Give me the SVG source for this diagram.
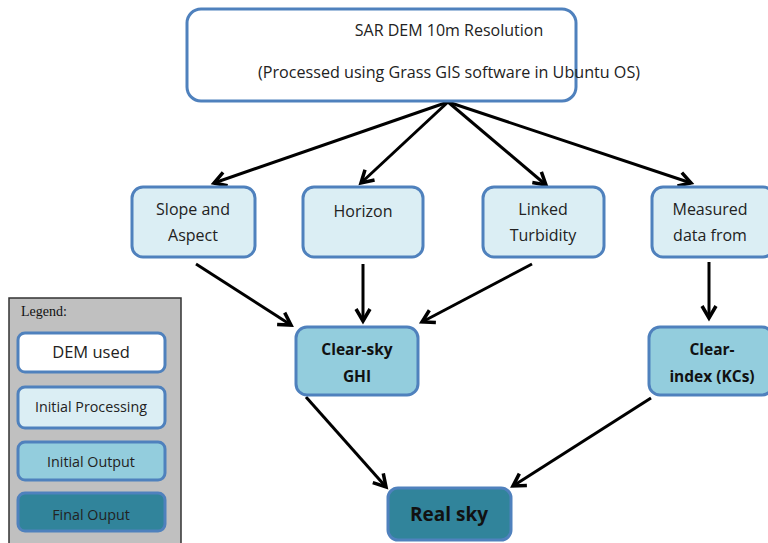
<svg xmlns="http://www.w3.org/2000/svg" width="768" height="543" viewBox="0 0 768 543">
<style>
.box{stroke:#4f81bd;stroke-width:3}
.w{fill:#ffffff}
.p{fill:#dbeef4}
.o{fill:#93cddd}
.f{fill:#31849b}
.t{font-family:"Open Sans","Liberation Sans",sans-serif;font-size:16px;fill:#222;text-anchor:middle}
.b{font-family:"Open Sans","Liberation Sans",sans-serif;font-size:15.5px;font-weight:bold;fill:#111;text-anchor:middle}
.c{stroke:#000;stroke-width:3;fill:none;marker-end:url(#ah)}
</style>
<defs>
<marker id="ah" markerUnits="userSpaceOnUse" markerWidth="20" markerHeight="20" viewBox="0 0 20 20" refX="16" refY="10" orient="auto">
<path d="M4,3 L16,10 L4,17" fill="none" stroke="#000" stroke-width="3.5" stroke-linejoin="miter"/>
</marker>
</defs>
<rect width="768" height="543" fill="#ffffff"/>
<g id="legend">
<rect x="9" y="298" width="172" height="250" fill="#c0c0c0" stroke="#333" stroke-width="1.5"/>
<text x="21" y="316" font-family="Liberation Serif,serif" font-size="14" fill="#111">Legend:</text>
<rect class="box w" x="18" y="333" width="147" height="39" rx="7"/>
<text class="t" x="91" y="358" style="font-size:16.5px">DEM used</text>
<rect class="box p" x="18" y="387" width="147" height="41" rx="7"/>
<text class="t" x="91" y="412" style="font-size:14.3px">Initial Processing</text>
<rect class="box o" x="18" y="442" width="147" height="38" rx="7"/>
<text class="t" x="91" y="467" style="font-size:14.3px">Initial Output</text>
<rect class="box f" x="18" y="493" width="147" height="38" rx="7"/>
<text class="t" x="91" y="520" style="font-size:14.3px">Final Ouput</text>
</g>
<g id="connectors">
<line class="c" x1="448" y1="102" x2="214" y2="183"/>
<line class="c" x1="448" y1="102" x2="361" y2="183"/>
<line class="c" x1="448" y1="102" x2="546" y2="185"/>
<line class="c" x1="448" y1="102" x2="691" y2="183"/>
<line class="c" x1="196" y1="264" x2="291" y2="325"/>
<line class="c" x1="363" y1="264" x2="363" y2="321"/>
<line class="c" x1="532" y1="264" x2="422" y2="322"/>
<line class="c" x1="709" y1="262" x2="709" y2="318"/>
<line class="c" x1="306" y1="397" x2="386" y2="487"/>
<line class="c" x1="651" y1="398" x2="513" y2="486"/>
</g>
<g id="dem">
<rect class="box w" x="187" y="9" width="389" height="92" rx="14"/>
<text class="t" x="449" y="36">SAR DEM 10m Resolution</text>
<text class="t" x="449" y="78" textLength="382" lengthAdjust="spacingAndGlyphs">(Processed using Grass GIS software in Ubuntu OS)</text>
</g>
<g id="slope">
<rect class="box p" x="132" y="187" width="123" height="70" rx="11"/>
<text class="t" x="193" y="215">Slope and</text>
<text class="t" x="193" y="241">Aspect</text>
</g>
<g id="horizon">
<rect class="box p" x="303" y="187" width="120" height="70" rx="11"/>
<text class="t" x="363" y="217">Horizon</text>
</g>
<g id="turbidity">
<rect class="box p" x="483" y="187" width="121" height="70" rx="11"/>
<text class="t" x="543" y="215">Linked</text>
<text class="t" x="543" y="241">Turbidity</text>
</g>
<g id="measured">
<rect class="box p" x="652" y="187" width="122" height="70" rx="11"/>
<text class="t" x="710" y="215">Measured</text>
<text class="t" x="710" y="241">data from</text>
</g>
<g id="clearsky">
<rect class="box o" x="296" y="327" width="122" height="68" rx="11"/>
<text class="b" x="357" y="355">Clear-sky</text>
<text class="b" x="357" y="382">GHI</text>
</g>
<g id="clearindex">
<rect class="box o" x="649" y="327" width="124" height="68" rx="11"/>
<text class="b" x="712" y="355">Clear-</text>
<text class="b" x="712" y="382">index (KCs)</text>
</g>
<g id="realsky">
<rect class="box f" x="388" y="488" width="123" height="52" rx="10"/>
<text class="b" x="449" y="521" style="font-size:19px">Real sky</text>
</g>
</svg>
